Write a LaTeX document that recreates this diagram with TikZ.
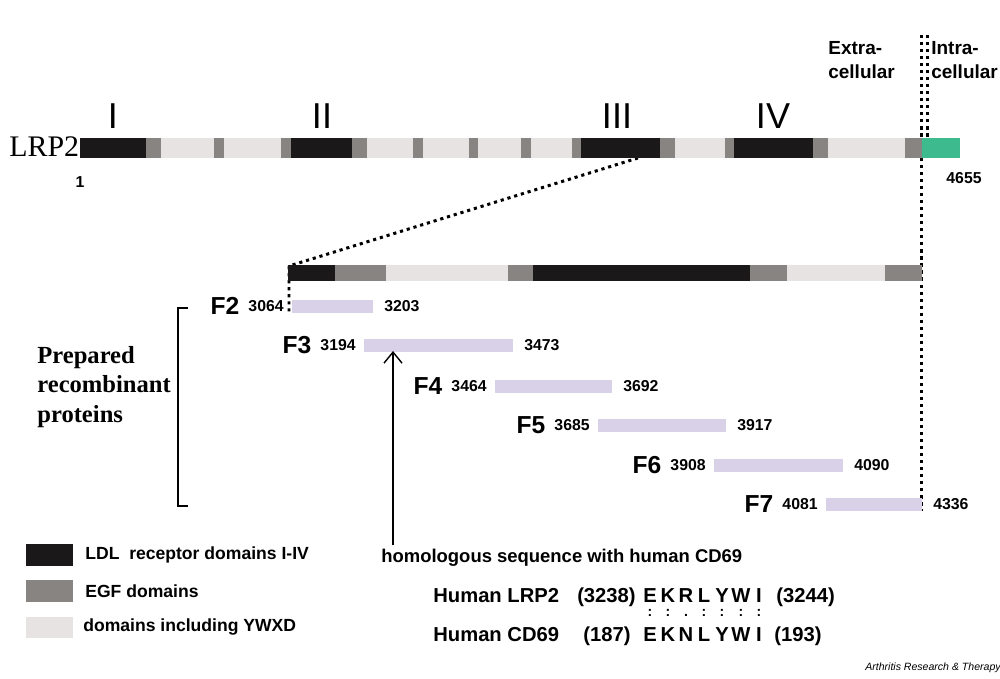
\documentclass[tikz,border=0pt]{standalone}
\usepackage{fontspec}
\setmainfont{Liberation Sans}
\newfontfamily\serifface{Liberation Serif}
\usetikzlibrary{positioning,arrows.meta}

\definecolor{ldlc}{HTML}{1A1818}
\definecolor{egfc}{HTML}{888481}
\definecolor{ywxc}{HTML}{E6E3E2}
\definecolor{cytc}{HTML}{3DBA8E}
\definecolor{fragc}{HTML}{D9D1E7}

\tikzset{
  dotline/.style={line width=1.7pt, dash pattern=on 1.8pt off 2.2pt},
  numlab/.style={inner sep=0pt, font=\fontsize{9}{10}\selectfont\bfseries},
  fraglab/.style={inner sep=0pt, font=\fontsize{14}{16}\selectfont\bfseries},
  romanlab/.style={inner sep=0pt, anchor=base, font=\fontsize{20.5}{22}\selectfont},
  sidelab/.style={inner sep=0pt, anchor=north west, align=left,
    font=\fontsize{10.8}{13.5}\selectfont\bfseries},
  legendlab/.style={inner sep=0pt, anchor=west, font=\fontsize{10}{12}\selectfont\bfseries},
  seqlab/.style={inner sep=0pt, anchor=base, font=\fontsize{11.5}{13}\selectfont\bfseries},
  matchlab/.style={inner sep=0pt, anchor=base, font=\fontsize{8}{9}\selectfont\bfseries}
}

\begin{document}
\begin{tikzpicture}[x=0.02cm, y=-0.02cm]
\useasboundingbox (0,0) rectangle (1000,679);

% zoom and membrane lines
\coordinate (barIII) at (638,158);
\coordinate (zoomL) at (289,266);
\coordinate (zoomB) at (289,314);
\coordinate (memT1) at (921,35);
\coordinate (memB1) at (921,138);
\coordinate (memT2) at (927,35);
\coordinate (memB2) at (927,138);
\coordinate (memR) at (921,158);
\coordinate (memE) at (921,511);
\draw[dotline] (barIII) -- (zoomL) -- (zoomB);
\draw[dotline] (memT1) -- (memB1);
\draw[dotline] (memT2) -- (memB2);
\draw[dotline] (memR) -- (memE);

% full length LRP2
\foreach \a/\b/\c in {80/146/ldlc, 146/161/egfc, 161/214/ywxc, 214/224/egfc,
  224/281/ywxc, 281/291/egfc, 291/352/ldlc, 352/367/egfc, 367/413/ywxc,
  413/423/egfc, 423/469/ywxc, 469/478/egfc, 478/521/ywxc, 521/531/egfc,
  531/572/ywxc, 572/581/egfc, 581/660/ldlc, 660/675/egfc, 675/725/ywxc,
  725/734/egfc, 734/813/ldlc, 813/828/egfc, 828/905/ywxc, 905/922/egfc,
  922/960/cytc}
  \fill[\c] (\a,138) rectangle (\b,158);

% domain III enlarged
\foreach \a/\b/\c in {288/335/ldlc, 335/386/egfc, 386/508/ywxc, 508/533/egfc,
  533/750/ldlc, 750/787/egfc, 787/885/ywxc, 885/922/egfc}
  \fill[\c] (\a,265) rectangle (\b,281);

\node[inner sep=0pt, anchor=base west, font=\serifface\fontsize{17}{19}\selectfont] (lrp) at (9,156) {LRP2};
\node[numlab] (first) at (80,182) {1};
\node[numlab] (last) at (964,178) {4655};

\node[romanlab] (domI) at (113,129) {I};
\node[romanlab] (domII) at (322,129) {II};
\node[romanlab] (domIII) at (617,129) {III};
\node[romanlab] (domIV) at (773,129) {IV};

\node[sidelab] (extra) at (828,41) {Extra-\\cellular};
\node[sidelab] (intra) at (931,41) {Intra-\\cellular};

% recombinant fragments
\foreach \n/\a/\b/\y/\s/\t in {F2/292/373/306/3064/3203, F3/364/513/345/3194/3473,
  F4/495/612/386/3464/3692, F5/598/726/425/3685/3917,
  F6/714/843/465/3908/4090, F7/826/922/504/4081/4336}
{
  \fill[fragc] (\a,\y-6.5) rectangle (\b,\y+6.5);
  \coordinate (\n-w) at (\a,\y);
  \coordinate (\n-e) at (\b,\y);
  \node[numlab, left=0.16cm of \n-w] (\n-s) {\s};
  \node[numlab, right=0.22cm of \n-e] (\n-t) {\t};
  \node[fraglab, left=0.17cm of \n-s] (\n) {\n};
}

\coordinate (brT) at (188,308);
\coordinate (brB) at (188,506);
\draw[line width=1.2pt] (brT) -- (178,308) -- (178,506) -- (brB);
\node[inner sep=0pt, anchor=west, align=left,
  font=\serifface\fontsize{14}{17}\selectfont\bfseries] (prep) at (37,387)
  {Prepared\\recombinant\\proteins};

% homologous site
\node[inner sep=0pt, anchor=west, font=\fontsize{10.5}{12}\selectfont\bfseries] (homol) at (381,558)
  {homologous sequence with human CD69};
\coordinate (homB) at (393,545);
\coordinate (homT) at (393,351);
\draw[line width=0.8pt, -{Straight Barb[length=2.2mm, width=3.6mm]}] (homB) -- (homT);

% legend
\fill[ldlc] (26,544) rectangle (73,566);
\fill[egfc] (26,580) rectangle (73,602);
\fill[ywxc] (26,617) rectangle (73,638);
\node[legendlab] (legldl) at (85,555) {LDL\ \ receptor domains I-IV};
\node[legendlab] (legegf) at (85,591) {EGF domains};
\node[legendlab] (legywx) at (83,627) {domains including YWXD};

% sequence alignment
\node[seqlab, anchor=base west] (hlrp) at (433,602) {Human LRP2};
\node[seqlab, anchor=base west] (hcd) at (433,641) {Human CD69};
\node[seqlab, anchor=base east] (lrpS) at (636,602) {(3238)};
\node[seqlab, anchor=base west] (lrpE) at (776,602) {(3244)};
\node[seqlab, anchor=base east] (cdS) at (631,641) {(187)};
\node[seqlab, anchor=base west] (cdE) at (774,641) {(193)};
\foreach \a/\b/\m/\x [count=\i] in {E/E/:/650, K/K/:/668, R/N/./686, L/L/:/704,
  Y/Y/:/722, W/W/:/741, I/I/:/759}
{
  \node[seqlab] (up\i) at (\x,602) {\a};
  \node[matchlab] (mid\i) at (\x,616) {\m};
  \node[seqlab] (dn\i) at (\x,641) {\b};
}

\node[inner sep=0pt, font=\fontsize{6}{7}\selectfont\itshape] (journal) at (933,668)
  {Arthritis Research \& Therapy};
\end{tikzpicture}
\end{document}
